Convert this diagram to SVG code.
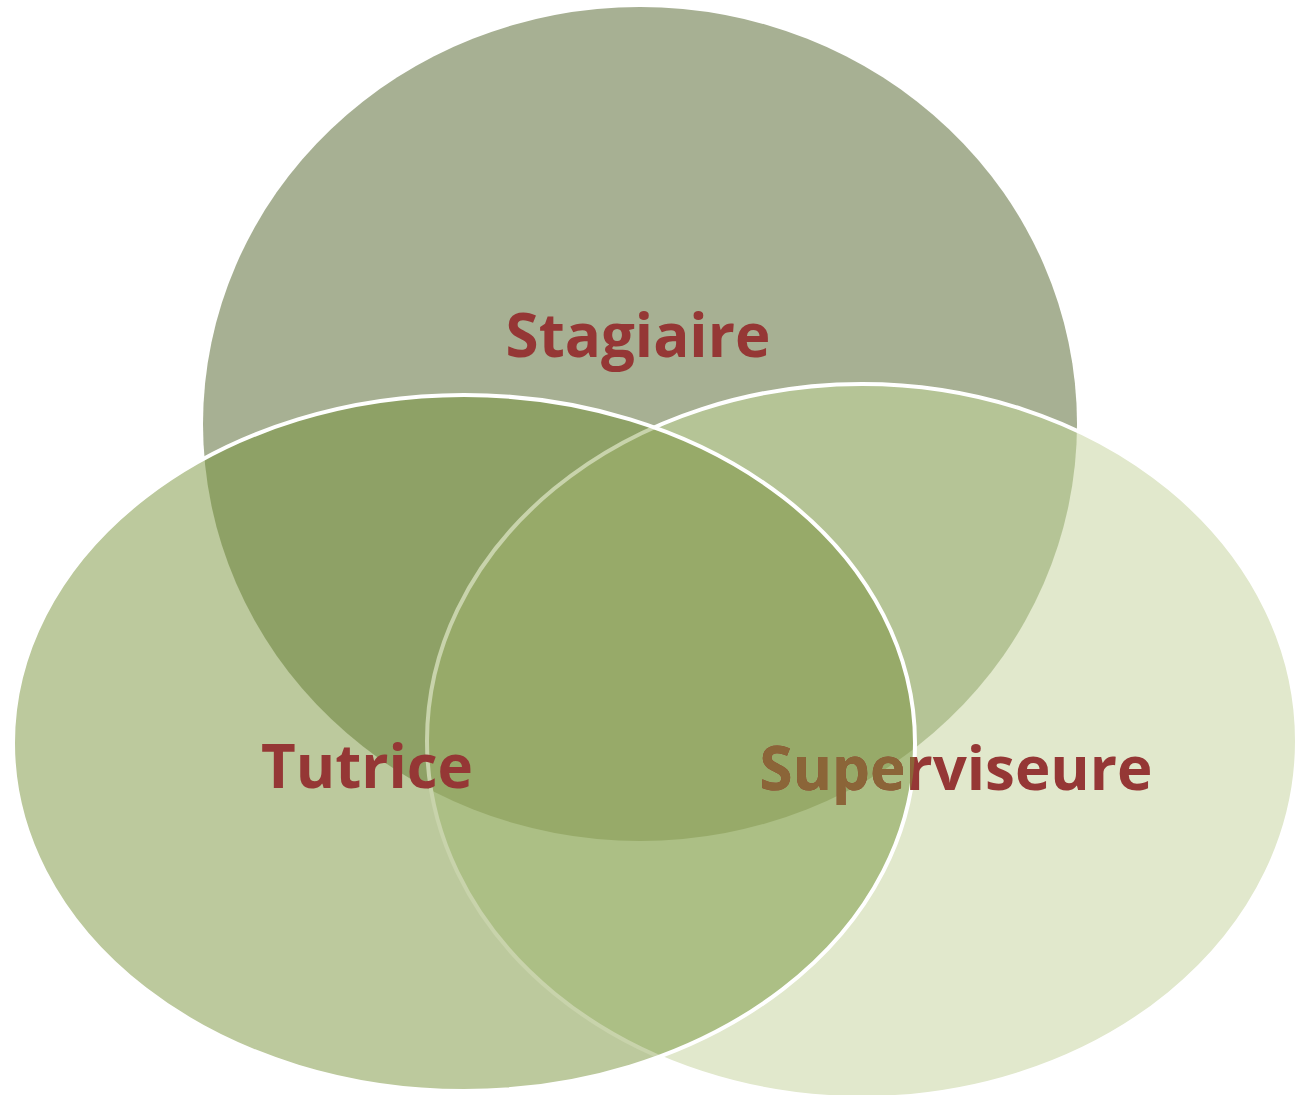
<svg xmlns="http://www.w3.org/2000/svg" width="1296" height="1095" viewBox="0 0 1296 1095">
<style>
.lbl{font-family:"Open Sans","Noto Sans","Liberation Sans",sans-serif;font-weight:bold;font-size:60px;text-anchor:middle;fill:#953735}
.edge{fill:none;stroke:#ffffff;stroke-width:4}
</style>
<defs>
<clipPath id="cTop"><ellipse cx="640" cy="424" rx="437" ry="417"/></clipPath>
<clipPath id="cLeft"><ellipse cx="464" cy="743" rx="451" ry="348"/></clipPath>
<clipPath id="cRight"><ellipse cx="862" cy="741" rx="435" ry="357"/></clipPath>
<clipPath id="cNotLeft"><path clip-rule="evenodd" d="M0,0 H1296 V1095 H0 Z M13,743 a451,348 0 1,0 902,0 a451,348 0 1,0 -902,0 Z"/></clipPath>
</defs>
<rect width="1296" height="1095" fill="#ffffff"/>
<g id="stagiaire">
<ellipse cx="640" cy="424" rx="437" ry="417" fill="#a7b093"/>
</g>
<g id="superviseure">
<ellipse cx="862" cy="741" rx="435" ry="357" fill="#e1e8cc"/>
<ellipse cx="640" cy="424" rx="437" ry="417" fill="#b5c496" clip-path="url(#cRight)"/>
</g>
<g id="tutrice">
<ellipse cx="464" cy="743" rx="451" ry="348" fill="#bcc99d"/>
<ellipse cx="640" cy="424" rx="437" ry="417" fill="#8ea166" clip-path="url(#cLeft)"/>
<g clip-path="url(#cLeft)">
<ellipse cx="862" cy="741" rx="435" ry="357" fill="#acbf85"/>
<ellipse cx="640" cy="424" rx="437" ry="417" fill="#97aa69" clip-path="url(#cRight)"/>
</g>
</g>
<g id="connectors">
<ellipse class="edge" cx="862" cy="741" rx="435" ry="357" clip-path="url(#cNotLeft)"/>
<ellipse cx="862" cy="741" rx="435" ry="357" fill="none" stroke="#c8d3ab" stroke-width="4" clip-path="url(#cLeft)"/>
<ellipse class="edge" cx="464" cy="743" rx="451" ry="348"/>
</g>
<g id="labels">
<text class="lbl" x="638" y="357">Stagiaire</text>
<text class="lbl" x="367" y="788">Tutrice</text>
<text class="lbl" x="956" y="790">Superviseure</text>
<text class="lbl" x="956" y="790" style="fill:#8b6538" clip-path="url(#cLeft)">Superviseure</text>
</g>
</svg>
